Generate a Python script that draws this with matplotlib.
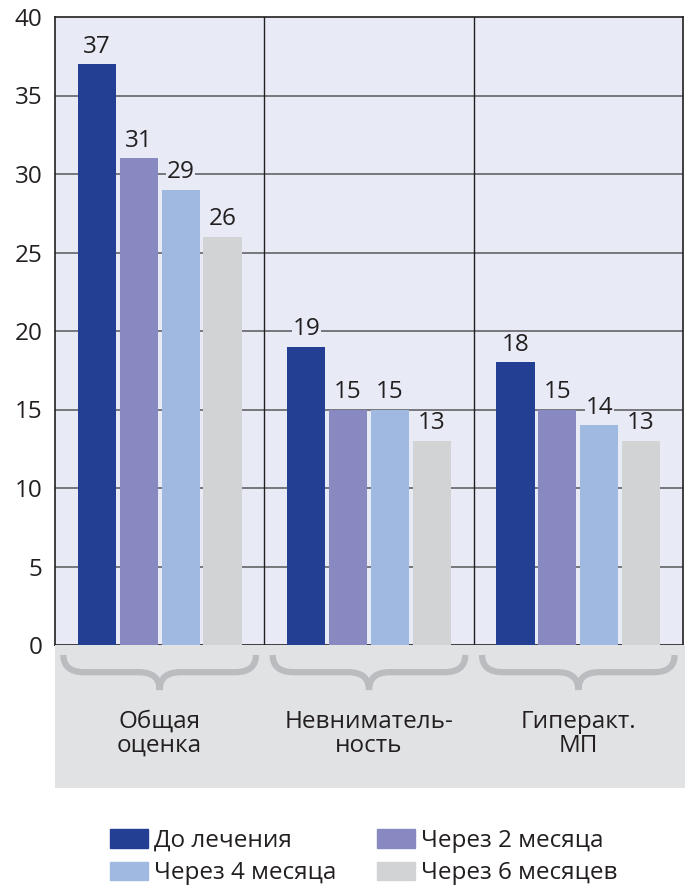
import matplotlib.pyplot as plt
import matplotlib.patches as mpatches
from matplotlib.path import Path
import numpy as np

plt.rcParams['font.family'] = ['Open Sans', 'DejaVu Sans']

categories = ["Общая\nоценка", "Невниматель-\nность", "Гиперакт.\nМП"]
series_names = ["До лечения", "Через 2 месяца", "Через 4 месяца", "Через 6 месяцев"]
before = [37, 19, 18]
after_2m = [31, 15, 15]
after_4m = [29, 15, 14]
after_6m = [26, 13, 13]
yticks = [0, 5, 10, 15, 20, 25, 30, 35, 40]

colors = ["#233f94", "#8789c0", "#a0b9e0", "#d2d3d5"]
bg = "#e8ebf6"
txt = "#231f20"
fs = 17.5

W, H = 690, 889
fig = plt.figure(figsize=(W / 100, H / 100), dpi=100)

# main plot area
ax = fig.add_axes([55 / W, (H - 645) / H, 628 / W, 628 / H])
ax.set_facecolor(bg)
x = np.arange(len(categories)) + 0.5
width = 0.182
offsets = [-0.3, -0.1, 0.1, 0.3]
for vals, off, col in zip([before, after_2m, after_4m, after_6m], offsets, colors):
    bars = ax.bar(x + off, vals, width, color=col, zorder=3)
    for b, v in zip(bars, vals):
        ax.annotate(str(v), (b.get_x() + b.get_width() / 2, v), xytext=(0, 4),
                    textcoords="offset points", ha="center", va="bottom",
                    fontsize=fs, color=txt, zorder=4,
                    bbox=dict(facecolor=bg, edgecolor="none", pad=0.5))

ax.set_xlim(0, 3)
ax.set_ylim(0, 40)
ax.set_yticks(yticks)
ax.set_xticks([])
ax.tick_params(axis="y", length=0, pad=9, labelsize=fs, labelcolor=txt)
for y in yticks[1:-1]:
    ax.axhline(y, color="#6d6e71", lw=1.3, zorder=1)
for xv in [1, 2]:
    ax.axvline(xv, color="#231f20", lw=1.0, zorder=1)
for s in ax.spines.values():
    s.set_color("#231f20")
    s.set_linewidth(1.2)

# gray band with braces and category names
ax2 = fig.add_axes([55 / W, (H - 788) / H, 630 / W, 143 / H])
ax2.set_facecolor("#e1e2e4")
ax2.set_xlim(0, 3 * 630 / 628)
ax2.set_ylim(0, 1)
ax2.set_xticks([])
ax2.set_yticks([])
for s in ax2.spines.values():
    s.set_visible(False)

top, mid, bot, r = 0.93, 0.81, 0.685, 0.1
for xc in x:
    x0, x1 = xc - 0.46, xc + 0.46
    verts = [(x0, top), (x0, mid), (x0 + r, mid), (xc - r, mid), (xc, mid), (xc, bot),
             (xc, bot), (xc, mid), (xc + r, mid), (x1 - r, mid), (x1, mid), (x1, top)]
    codes = [Path.MOVETO, Path.CURVE3, Path.CURVE3, Path.LINETO, Path.CURVE3, Path.CURVE3,
             Path.MOVETO, Path.CURVE3, Path.CURVE3, Path.LINETO, Path.CURVE3, Path.CURVE3]
    ax2.add_patch(mpatches.PathPatch(Path(verts, codes), fill=False, edgecolor="#babcbf",
                                     lw=4.5, capstyle="butt"))

for xc, lab in zip(x, categories):
    ax2.text(xc, 0.38, lab, ha="center", va="center", fontsize=fs, color=txt,
             linespacing=1.0)

# legend
handles = [mpatches.Patch(color=c, label=n) for c, n in zip(colors, series_names)]
order = [0, 2, 1, 3]
fig.legend([handles[i] for i in order], [series_names[i] for i in order],
           ncol=2, loc="center left", bbox_to_anchor=(88 / W, 1 - 857 / H),
           frameon=False, fontsize=fs, handlelength=1.55, handleheight=0.8,
           handletextpad=0.25, columnspacing=1.7, labelspacing=0.35,
           labelcolor=txt)

fig.savefig("out.png", dpi=100)
